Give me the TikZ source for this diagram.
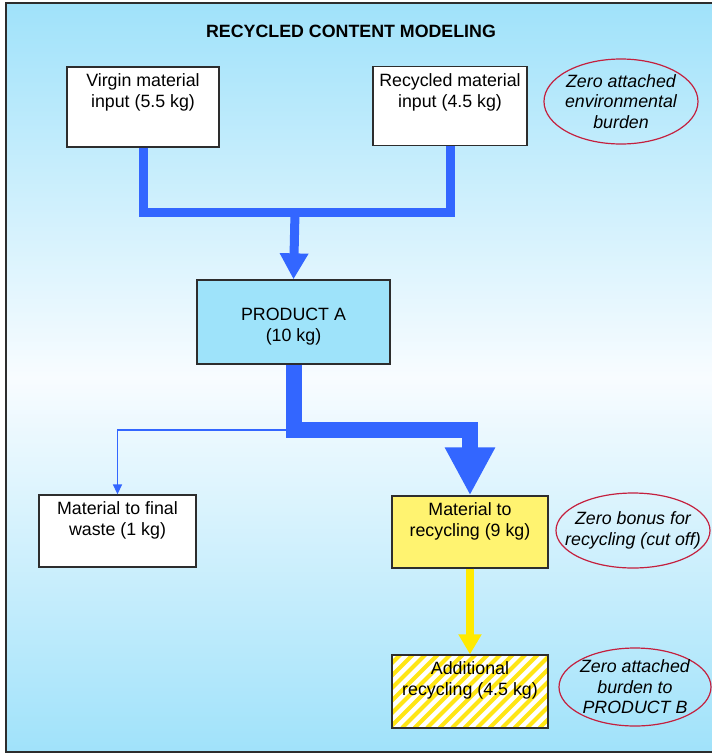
\documentclass[tikz,border=0pt]{standalone}
\usepackage{fontspec}
\setmainfont{Liberation Sans}
\usetikzlibrary{arrows.meta,shapes.geometric}

% text set at the top of a box
\newcommand{\boxtext}[3]{\parbox[t][#2][t]{#1}{\centering #3}}

\tikzset{
  every node/.style={font=\fontsize{17.8}{21}\selectfont},
  headline/.style={font=\fontsize{17.8}{21}\selectfont\bfseries},
  box/.style={draw=boxline, line width=1.3pt, inner xsep=4pt, inner ysep=7pt},
  note/.style={ellipse, draw=ringred, line width=1.2pt, inner sep=-15pt, align=center,
    font=\fontsize{17.8}{20.5}\selectfont\itshape},
  pipe/.style={draw=flowblue, line width=9pt},
  thinpipe/.style={draw=flowblue, line width=1.5pt},
  yellowpipe/.style={draw=flowyellow, line width=8pt},
  hatched/.style={fill=white, path picture={
      \foreach \s in {-90,-77.5,...,170}
        \draw[hatchyellow, line width=4pt]
          ([xshift=\s pt]path picture bounding box.south west) -- ++(90pt,90pt);
    }},
}

\begin{document}
\begin{tikzpicture}[x=1pt, y=-1pt]
  \definecolor{bgblue}{RGB}{160,226,250}
  \definecolor{bgwhite}{RGB}{248,252,255}
  \definecolor{boxline}{RGB}{45,45,45}
  \definecolor{ringred}{RGB}{196,32,62}
  \definecolor{flowblue}{RGB}{51,102,255}
  \definecolor{flowyellow}{RGB}{255,234,0}
  \definecolor{hatchyellow}{RGB}{255,230,20}
  \definecolor{prodfill}{RGB}{158,227,250}
  \definecolor{recfill}{RGB}{255,243,112}

  \useasboundingbox (0,0) rectangle (712,753);
  % Background with a frame on three sides
  \fill[white] (0,0) rectangle (712,753);
  \shade[top color=bgblue, bottom color=bgblue, middle color=bgwhite] (6,3) rectangle (712,752);
  \draw[boxline, line width=1.5pt] (712,3) -- (6,3) -- (6,752) -- (712,752);

  \node[headline] (heading) at (351,31) {RECYCLED CONTENT MODELING};

  % Boxes
  \node[box, fill=white] (virgin) at (143,107) {\boxtext{144pt}{66pt}{Virgin material\\input (5.5 kg)}};
  \node[box, fill=white] (recycled) at (450,106) {\boxtext{146pt}{65pt}{Recycled material\\input (4.5 kg)}};
  \node[box, fill=prodfill] (product) at (293.5,322) {\parbox[c][70pt][c]{185pt}{\centering\vspace{10pt}PRODUCT A\\(10 kg)}};
  \node[box, fill=white] (waste) at (117.5,531) {\boxtext{149pt}{58pt}{Material to final\\waste (1 kg)}};
  \node[box, fill=recfill] (recycling) at (470,532) {\boxtext{148pt}{58pt}{Material to\\recycling (9 kg)}};
  \node[box, hatched] (additional) at (470,691.5) {\boxtext{148pt}{59pt}{Additional\\recycling (4.5 kg)}};

  % Remarks
  \node[note, minimum width=154pt, minimum height=85pt] (zeroburden) at (621,101.5) {Zero attached\\environmental\\burden};
  \node[note, minimum width=154pt, minimum height=75pt] (zerobonus) at (633,530.5) {Zero bonus for\\recycling (cut off)};
  \node[note, minimum width=152pt, minimum height=78pt] (zeroproduct) at (635,687) {Zero attached\\burden to\\PRODUCT B};

  % Flows
  \coordinate (merge) at (295,212.5);
  \coordinate (split) at (288,430);
  \coordinate (bend) at (recycling.north |- 0,430);
  \draw[pipe] (virgin.south) |- (merge) -| (recycled.south);
  \draw[pipe, -{Triangle[width=27pt,length=26pt]}] (merge) -- (product.north);
  \draw[thinpipe, -{Triangle[width=9pt,length=10pt]}] (split) -| (waste.north);
  \draw[pipe, line width=16pt, -{Triangle[width=47pt,length=48pt]}] (product.south) |- (bend) -- (recycling.north);
  \draw[yellowpipe, -{Triangle[width=22pt,length=20pt]}] (recycling.south) -- (additional.north);
\end{tikzpicture}
\end{document}
